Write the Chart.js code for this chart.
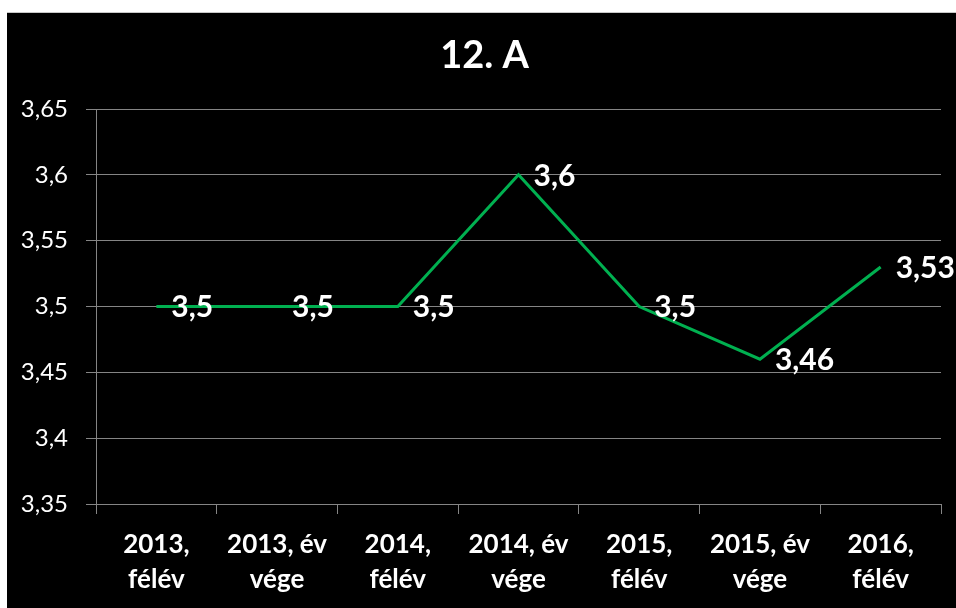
<!DOCTYPE html>
<html>
<head>
<meta charset="utf-8">
<script src="https://cdn.jsdelivr.net/npm/chart.js@4"></script>
<style>
  html, body { margin: 0; padding: 0; background: #fff; }
  #wrap {
    position: absolute; left: 7px; top: 12px;
    width: 949px; height: 596px;
    background: #000;
    border-top: 1px solid #c8c8c8;
    box-sizing: border-box;
  }
</style>
</head>
<body>
<div id="wrap"><canvas id="chart"></canvas></div>
<script>
const chartTitle = '12. A';
const categories = [
  ['2013,', 'félév'],
  ['2013, év', 'vége'],
  ['2014,', 'félév'],
  ['2014, év', 'vége'],
  ['2015,', 'félév'],
  ['2015, év', 'vége'],
  ['2016,', 'félév']
];
const averages = [3.5, 3.5, 3.5, 3.6, 3.5, 3.46, 3.53];
const yTickLabels = ['3,35', '3,4', '3,45', '3,5', '3,55', '3,6', '3,65'];

const FONT = 'Lato, "Open Sans", sans-serif';
const GRID = '#858585';

// values next to each point, like the office chart does
const valueLabels = {
  id: 'valueLabels',
  afterDatasetsDraw(chart) {
    const ctx = chart.ctx;
    const meta = chart.getDatasetMeta(0);
    ctx.save();
    ctx.fillStyle = '#fff';
    ctx.font = 'bold 30px ' + FONT;
    ctx.textAlign = 'left';
    ctx.textBaseline = 'middle';
    meta.data.forEach((pt, i) => {
      const txt = String(averages[i]).replace('.', ',');
      ctx.fillText(txt, pt.x + 15, pt.y + 1);
    });
    ctx.restore();
  }
};

const bigTitle = {
  id: 'bigTitle',
  afterDraw(chart) {
    const ctx = chart.ctx;
    ctx.save();
    ctx.fillStyle = '#fff';
    ctx.font = 'bold 38px ' + FONT;
    ctx.textAlign = 'center';
    ctx.textBaseline = 'middle';
    ctx.fillText(chartTitle, chart.width / 2 + 3, 43);
    ctx.restore();
  }
};

new Chart(document.getElementById('chart'), {
  type: 'line',
  data: {
    labels: categories,
    datasets: [{
      label: chartTitle,
      data: averages,
      borderColor: '#00b050',
      borderWidth: 3,
      pointRadius: 0,
      tension: 0,
      fill: false
    }]
  },
  options: {
    responsive: true,
    maintainAspectRatio: false,
    animation: false,
    layout: { padding: { top: 96, right: 15, bottom: 0, left: 0 } },
    plugins: {
      legend: { display: false },
      title: { display: false },
      tooltip: { enabled: false }
    },
    scales: {
      x: {
        offset: true,
        grid: {
          offset: true,
          drawOnChartArea: false,
          drawTicks: true,
          tickLength: 10,
          color: GRID
        },
        border: { color: GRID },
        ticks: {
          color: '#fff',
          font: { family: FONT, size: 26, weight: 'bold', lineHeight: '35px' },
          padding: 13,
          maxRotation: 0,
          autoSkip: false
        },
        afterFit(scale) { scale.height = 104; }
      },
      y: {
        min: 3.35,
        max: 3.65,
        grid: { color: GRID, tickLength: 10 },
        border: { color: GRID },
        ticks: {
          stepSize: 0.05,
          color: '#fff',
          font: { family: FONT, size: 24 },
          padding: 18,
          callback: (v, i) => yTickLabels[i]
        },
        afterFit(scale) { scale.width = 89; }
      }
    }
  },
  plugins: [valueLabels, bigTitle]
});
</script>
</body>
</html>
